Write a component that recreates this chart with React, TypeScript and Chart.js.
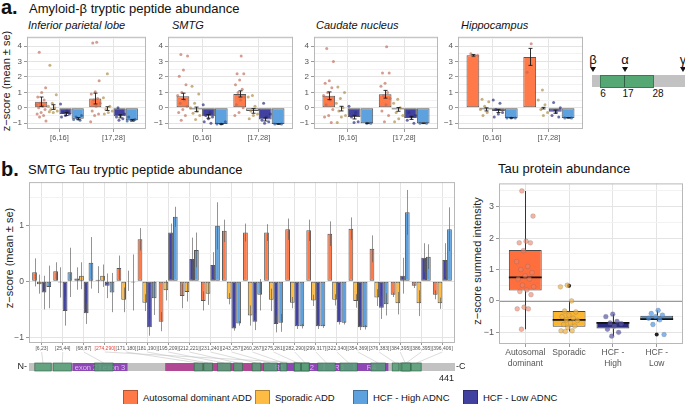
import React, { useEffect, useRef } from 'react';
import { Chart, registerables } from 'chart.js';

Chart.register(...registerables);

const FONT = '"Liberation Sans", Arial, Helvetica, sans-serif';
Chart.defaults.font.family = FONT;

// ---------------- series (drawing order inside each group) ----------------
const seriesNames = ['Autosomal dominant ADD', 'Sporadic ADD', 'HCF - Low ADNC', 'HCF - High ADNC'];
const seriesColors = ['#FF7A48', '#FFBC45', '#4141A0', '#5DA1DF'];
const seriesDots = ['rgba(190,104,84,0.65)', 'rgba(170,134,60,0.65)', 'rgba(48,48,128,0.7)', 'rgba(44,86,146,0.7)'];

// ---------------- panel a : amyloid-beta ----------------
const abPeptides = ['[6,16]', '[17,28]'];
const abYTicks = [-1, 0, 1, 2, 3, 4];
const abYRange = [-1.37, 4.6];
const abRegions = ['Inferior parietal lobe', 'SMTG', 'Caudate nucleus', 'Hippocampus'];

// [series][peptide]
const iplMean = [[0.4, 0.6], [0.05, -0.05], [-0.4, -0.55], [-0.7, -0.8]];
const iplSe = [[0.3, 0.35], [0.15, 0.12], [0.1, 0.1], [0.07, 0.05]];
const iplPoints = [
  [[3.6, 1.3, 1.0, 0.7, 0.5, 0.3, 0.2, 0.1, 0, -0.1, -0.3, -0.4, -0.5, -0.6, -0.85], [4.25, 4.2, 1.75, 1.05, 0.9, 0.6, 0.5, 0.3, 0.1, -0.2, -0.4, -0.5, -0.9]],
  [[2.75, 0.85, 0.3, 0.1, 0, -0.1, -0.2, -0.3, -0.25], [2.2, 0.65, 0.1, -0.1, -0.2, -0.3, -0.4]],
  [[0.25, -0.2, -0.3, -0.4, -0.5, -0.6, -0.3], [0, -0.4, -0.5, -0.6, -0.7, -0.8]],
  [[-0.5, -0.7, -0.75, -0.8, -0.6], [-0.6, -0.75, -0.8, -0.85, -0.8]],
];

const smtgMean = [[0.75, 0.9], [-0.1, -0.2], [-0.55, -0.75], [-1.05, -1.05]];
const smtgSe = [[0.2, 0.2], [0.15, 0.15], [0.12, 0.1], [0.02, 0.02]];
const smtgPoints = [
  [[3.45, 3.35, 2.45, 2.05, 1.5, 1.0, 0.8, 0.5, 0.3, 0.1, -0.1, -0.3, -0.5, -0.8], [3.35, 2.2, 2.2, 1.8, 1.5, 1.2, 1.0, 0.7, 0.5, 0.2, 0, -0.3, -0.5]],
  [[1.4, 0.9, 0.3, 0, -0.2, -0.35, -0.5, -0.75], [0.8, 0.7, 0.1, -0.2, -0.4, -0.5, -0.7]],
  [[0.2, -0.3, -0.5, -0.6, -0.7, -0.9, -1.0], [0.3, -0.4, -0.6, -0.8, -0.9, -1.0]],
  [[-0.9, -1.05, -1.05], [-1.05, -1.05]],
];

const caudMean = [[0.78, 0.88], [-0.05, -0.1], [-0.6, -0.65], [-1.0, -1.0]];
const caudSe = [[0.25, 0.25], [0.15, 0.12], [0.12, 0.1], [0.02, 0.02]];
const caudPoints = [
  [[3.85, 3.0, 1.75, 1.6, 1.3, 1.0, 0.8, 0.5, 0.2, -0.1, -0.5, -0.6, -0.95], [3.95, 2.25, 2.25, 1.6, 1.4, 1.0, 0.8, 0.6, 0.2, -0.2, -0.5, -0.9]],
  [[1.35, 1.0, 0.6, 0.3, 0, -0.2, -0.5, -0.6, -0.95], [0.55, 0.3, 0, -0.3, -0.5, -0.7, -0.9]],
  [[0.1, -0.3, -0.6, -0.9, -0.95], [-0.3, -0.5, -0.6, -0.8, -1.0]],
  [[-1.0, -1.0], [-1.0, -1.0]],
];

const hippMean = [[3.4, 3.3], [-0.1, -0.02], [-0.2, -0.25], [-0.65, -0.65]];
const hippSe = [[0.05, 0.55], [0.1, 0.05], [0.1, 0.1], [0.02, 0.02]];
const hippPoints = [
  [[3.5, 3.4, 3.35], [4.15, 2.3]],
  [[0.55, 0.4, 0.1, -0.1, -0.3, -0.5], [1.15, 0.5, 0.2, -0.1, -0.3, -0.5]],
  [[0.5, 0.3, -0.1, -0.3, -0.4, -0.6], [0.35, 0, -0.3, -0.5, -0.6]],
  [[-0.65, -0.65, -0.65], [-0.65, -0.65]],
];

// ---------------- panel b : tau peptides ----------------
const tauPeptides = ['[6,23]', '[25,44]', '[68,87]', '[274,290]', '[171,180]', '[181,190]', '[195,209]', '[212,221]', '[231,240]', '[243,257]', '[260,267]', '[275,281]', '[282,290]', '[299,317]', '[322,340]', '[354,369]', '[376,383]', '[384,395]', '[386,395]', '[396,406]'];
const tauStart = [6, 25, 68, 274, 171, 181, 195, 212, 231, 243, 260, 275, 282, 299, 322, 354, 376, 384, 386, 396];
const tauEnd = [23, 44, 87, 290, 180, 190, 209, 221, 240, 257, 267, 281, 290, 317, 340, 369, 383, 395, 395, 406];
const tauHighlight = '[274,290]';
const tauYTicks = [-1, 0, 1];
const tauYRange = [-1.1, 1.77];

const tauAD = [0.16, 0.18, 0.05, 0.03, 0.24, 0.75, -0.72, -0.26, -0.35, 0.9, 0.87, 0.87, 0.93, 0.91, 0.85, 0.94, 0.58, -0.24, -0.08, -0.24];
const tauADse = [0.25, 0.16, 0.2, 0.24, 0.22, 0.2, 0.17, 0.22, 0.17, 0.2, 0.16, 0.15, 0.19, 0.19, 0.22, 0.2, 0.24, 0.04, 0.04, 0.08];
const tauSP = [-0.05, -0.02, 0.1, 0.1, -0.33, -0.38, -0.16, -0.19, -0.22, -0.31, -0.61, -0.33, -0.38, -0.34, -0.33, -0.35, -0.29, -0.39, -0.39, -0.39];
const tauSPse = [0.17, 0.27, 0.24, 0.2, 0.22, 0.15, 0.18, 0.17, 0.2, 0.1, 0.18, 0.2, 0.1, 0.1, 0.1, 0.12, 0.15, 0.2, 0.23, 0.1];
const tauLow = [-0.2, -0.53, -0.57, -0.08, 0.01, -0.82, 0.87, 0.4, 0.29, -0.84, -0.72, -0.76, -0.8, -0.8, -0.73, -0.82, -0.47, 0.1, 0.42, 0.38];
const tauLowse = [0.3, 0.26, 0.19, 0.22, 0.18, 0.15, 0.16, 0.38, 0.23, 0.04, 0.15, 0.15, 0.05, 0.05, 0.04, 0.05, 0.2, 0.32, 0.26, 0.3];
const tauHigh = [-0.1, 0.16, 0.33, -0.2, -0.02, -0.3, 1.15, 0.56, 0.99, -0.75, -0.24, -0.74, -0.8, -0.8, -0.74, -0.82, -0.41, 1.23, 0.44, 0.93];
const tauHighse = [0.38, 0.44, 0.46, 0.35, 0.5, 0.3, 0.18, 0.31, 0.42, 0.04, 0.28, 0.16, 0.04, 0.03, 0.03, 0.04, 0.2, 0.4, 0.22, 0.39];

// tau protein (2N4R) schematic, residues
const seqLength = 441;
const domainNames = ['exon 2', 'exon 3', '', 'R1', 'R2', 'R3', 'R4'];
const domainStart = [45, 74, 141, 244, 275, 306, 337];
const domainEnd = [73, 102, 244, 274, 305, 336, 372];
const domainKind = ['exon', 'exon', 'proline', 'repeat', 'repeat', 'repeat', 'repeat'];

// ---------------- tau protein abundance boxplot ----------------
const boxLabels = ['Autosomal\ndominant', 'Sporadic', 'HCF -\nHigh', 'HCF -\nLow'];
const boxYTicks = [-1, 0, 1, 2, 3];
const boxYRange = [-1.37, 3.74];
const boxQ1 = [0.33, -0.82, -0.88, -0.6];
const boxMedian = [0.75, -0.6, -0.7, -0.58];
const boxQ3 = [1.62, -0.32, -0.67, -0.47];
const boxLow = [-0.9, -0.97, -1.12, -0.65];
const boxHigh = [3.5, 0.0, -0.42, -0.3];
const boxOutliers = [[], [0.48], [], [-1.07]];
const boxPoints = [
  [3.5, 2.7, 1.9, 1.85, 1.85, 1.6, 1.25, 1.1, 1.0, 0.9, 0.8, 0.7, 0.7, 0.5, 0.45, 0.35, 0.3, 0.2, -0.2, -0.25, -0.25, -0.9],
  [0.5, 0.45, 0.0, -0.32, -0.35, -0.45, -0.5, -0.55, -0.6, -0.62, -0.7, -0.75, -0.8, -0.85, -0.95, -0.95, -0.97],
  [-0.42, -0.5, -0.65, -0.7, -0.72, -0.8, -0.9, -1.0, -1.12],
  [-0.3, -0.4, -0.45, -0.5, -0.55, -0.6, -0.75, -1.07],
];
const boxColors = ['#FF6F3D', '#FDB630', '#2B2B80', '#3E98E8'];
const boxDots = ['rgba(238,128,100,0.6)', 'rgba(236,176,70,0.7)', 'rgba(90,90,170,0.7)', 'rgba(80,150,230,0.7)'];

// ---------------- styling ----------------
const GRID_MAJOR = '#e4e4e4';
const GRID_MINOR = '#f2f2f2';
const TICK_TEXT = '#555555';
const FRAME = '#b8b8b8';

type Rect = { x0: number; y0: number; x1: number; y1: number };

const isMajor = (v: number) => v !== undefined && Math.abs(v - Math.round(v)) < 1e-9;
const fmtTick = (v: number) => (v < 0 ? '\u2212' + Math.abs(v) : String(v));
const jit = (k: number) => ((k * 0.618034 + 0.31) % 1) - 0.5;

function halves(min: number, max: number) {
  const out: number[] = [];
  for (let v = Math.ceil(min * 2) / 2; v <= max + 1e-9; v += 0.5) out.push(Math.round(v * 2) / 2);
  return out;
}

function yAxis(range: number[], major: number[], font: number, width: number) {
  const [min, max] = range;
  return {
    type: 'linear',
    min,
    max,
    afterBuildTicks: (s: any) => {
      s.ticks = halves(min, max).map((v) => ({ value: v }));
    },
    afterFit: (s: any) => {
      s.width = width;
    },
    ticks: {
      autoSkip: false,
      color: TICK_TEXT,
      font: { size: font },
      padding: 2,
      callback: (v: number) => (major.indexOf(v) >= 0 ? fmtTick(v) : ''),
    },
    grid: {
      color: (c: any) => (c.tick && isMajor(c.tick.value) ? GRID_MAJOR : GRID_MINOR),
      lineWidth: 1,
      tickLength: 3,
      tickColor: (c: any) => (c.tick && isMajor(c.tick.value) ? '#9a9a9a' : 'rgba(0,0,0,0)'),
    },
    border: { display: false },
  };
}

function xAxis(labels: any[], height: number, font: number, color: any = TICK_TEXT, tickLen = 3) {
  return {
    type: 'linear',
    min: 0.4,
    max: labels.length + 0.6,
    offset: false,
    afterBuildTicks: (s: any) => {
      s.ticks = labels.map((_: any, i: number) => ({ value: i + 1 }));
    },
    afterFit: (s: any) => {
      s.height = height;
    },
    ticks: {
      autoSkip: false,
      maxRotation: 0,
      minRotation: 0,
      color,
      font: { size: font },
      padding: 1,
      callback: (v: number) => labels[Math.round(v) - 1],
    },
    grid: { color: GRID_MAJOR, lineWidth: 1, tickLength: tickLen, tickColor: '#9a9a9a', offset: false },
    border: { display: false },
  };
}

const framePlugin = {
  id: 'frame',
  afterDraw(chart: any) {
    const { ctx, chartArea } = chart;
    ctx.save();
    ctx.strokeStyle = FRAME;
    ctx.lineWidth = 1;
    ctx.strokeRect(chartArea.left + 0.5, chartArea.top + 0.5, chartArea.right - chartArea.left - 1, chartArea.bottom - chartArea.top - 1);
    ctx.restore();
  },
};

function jitterPlugin(points: number[][][], colors: string[], radius: number, spread: number) {
  return {
    id: 'jitter',
    afterDatasetsDraw(chart: any) {
      const { ctx } = chart;
      const ys = chart.scales.y;
      ctx.save();
      points.forEach((perCat, si) => {
        const meta = chart.getDatasetMeta(si);
        perCat.forEach((list, ci) => {
          const el = meta.data[ci];
          if (!el) return;
          list.forEach((v, k) => {
            ctx.beginPath();
            ctx.arc(el.x + jit(k + si * 3 + ci * 7) * el.width * spread, ys.getPixelForValue(v), radius, 0, Math.PI * 2);
            ctx.fillStyle = colors[si];
            ctx.fill();
          });
        });
      });
      ctx.restore();
    },
  };
}

function errorBarsPlugin(se: number[][], color: string, width: number, cap: number) {
  return {
    id: 'errorBars',
    afterDatasetsDraw(chart: any) {
      const { ctx } = chart;
      const ys = chart.scales.y;
      ctx.save();
      ctx.strokeStyle = color;
      ctx.lineWidth = width;
      chart.data.datasets.forEach((ds: any, di: number) => {
        const meta = chart.getDatasetMeta(di);
        meta.data.forEach((el: any, i: number) => {
          const v = ds.data[i].y;
          const e = se[di][i];
          const yt = ys.getPixelForValue(v + e);
          const yb = ys.getPixelForValue(v - e);
          const x = Math.round(el.x) + 0.5;
          ctx.beginPath();
          ctx.moveTo(x, yt);
          ctx.lineTo(x, yb);
          if (cap > 0) {
            ctx.moveTo(x - cap, yt);
            ctx.lineTo(x + cap, yt);
            ctx.moveTo(x - cap, yb);
            ctx.lineTo(x + cap, yb);
          }
          ctx.stroke();
        });
      });
      ctx.restore();
    },
  };
}

function barDatasets(means: number[][]) {
  return means.map((m, si) => ({
    label: seriesNames[si],
    data: m.map((v, i) => ({ x: i + 1, y: v })),
    backgroundColor: seriesColors[si],
    borderColor: 'rgba(45,45,45,0.8)',
    borderWidth: 1,
    borderSkipped: false,
    categoryPercentage: 0.9,
    barPercentage: 1,
  }));
}

function baseOptions(canvas: Rect, plot: Rect) {
  return {
    animation: false,
    responsive: false,
    devicePixelRatio: 1,
    events: [],
    layout: { padding: { top: plot.y0 - canvas.y0, right: canvas.x1 - plot.x1, left: 0, bottom: 0 } },
    plugins: { legend: { display: false }, tooltip: { enabled: false }, title: { display: false } },
  };
}

function ChartCanvas({ canvas, build }: { canvas: Rect; build: () => any }) {
  const ref = useRef<HTMLCanvasElement>(null);
  useEffect(() => {
    const chart = new Chart(ref.current as HTMLCanvasElement, build());
    return () => chart.destroy();
  }, []);
  const w = canvas.x1 - canvas.x0;
  const h = canvas.y1 - canvas.y0;
  return <canvas ref={ref} width={w} height={h} style={{ position: 'absolute', left: canvas.x0, top: canvas.y0, width: w, height: h }} />;
}

// ---------------- builders ----------------
function buildAb(canvas: Rect, plot: Rect, mean: number[][], se: number[][], pts: number[][][]) {
  const opts: any = baseOptions(canvas, plot);
  opts.scales = {
    x: xAxis(abPeptides, canvas.y1 - plot.y1, 7.5),
    y: yAxis(abYRange, abYTicks, 8, plot.x0 - canvas.x0),
  };
  return {
    type: 'bar',
    data: { datasets: barDatasets(mean) },
    options: opts,
    plugins: [framePlugin, jitterPlugin(pts, seriesDots, 1.5, 0.85), errorBarsPlugin(se, '#1a1a1a', 0.9, 2)],
  };
}

const seqPlugin = {
  id: 'sequence',
  afterDraw(chart: any) {
    const { ctx, chartArea } = chart;
    const { left, right, bottom } = chartArea;
    const xs = chart.scales.x;
    const sx = (r: number) => left + (r / seqLength) * (right - left);
    const y0 = bottom + 20;
    const h = 8;
    ctx.save();
    ctx.strokeStyle = '#c4c4c4';
    ctx.lineWidth = 0.6;
    tauStart.forEach((s, i) => {
      ctx.beginPath();
      ctx.moveTo(xs.getPixelForValue(i + 1), bottom + 9);
      ctx.lineTo(sx((s + tauEnd[i]) / 2), y0);
      ctx.stroke();
    });
    ctx.fillStyle = '#c2c2c2';
    ctx.fillRect(sx(0), y0, sx(seqLength) - sx(0), h);
    domainStart.forEach((s, i) => {
      ctx.fillStyle = domainKind[i] === 'proline' ? '#B04893' : '#8D48B3';
      ctx.fillRect(sx(s), y0, sx(domainEnd[i]) - sx(s), h);
    });
    ctx.font = `7.5px ${FONT}`;
    ctx.fillStyle = '#dcc0f2';
    ctx.textAlign = 'center';
    ctx.textBaseline = 'middle';
    domainNames.forEach((n, i) => {
      if (n) ctx.fillText(n, sx((domainStart[i] + domainEnd[i]) / 2), y0 + h / 2 + 0.5);
    });
    tauStart.forEach((s, i) => {
      const x = sx(s);
      const w = sx(tauEnd[i]) - x;
      ctx.fillStyle = 'rgba(88,158,120,0.88)';
      ctx.fillRect(x, y0, w, h);
      ctx.strokeStyle = 'rgba(50,100,72,0.9)';
      ctx.lineWidth = 0.7;
      ctx.strokeRect(x, y0, w, h);
    });
    ctx.fillStyle = '#222';
    ctx.font = `9px ${FONT}`;
    ctx.textAlign = 'right';
    ctx.fillText('N-', sx(0) - 2, y0 + h / 2);
    ctx.textAlign = 'left';
    ctx.fillText('-C', sx(seqLength) + 1, y0 + h / 2);
    ctx.textAlign = 'right';
    ctx.textBaseline = 'top';
    ctx.fillText(String(seqLength), sx(seqLength) - 1, y0 + h + 3);
    ctx.restore();
  },
};

function buildTau(canvas: Rect, plot: Rect) {
  const opts: any = baseOptions(canvas, plot);
  opts.scales = {
    x: xAxis(tauPeptides, canvas.y1 - plot.y1, 5, (c: any) => (tauPeptides[c.index] === tauHighlight ? '#e8453c' : TICK_TEXT), 2),
    y: yAxis(tauYRange, tauYTicks, 8.5, plot.x0 - canvas.x0),
  };
  const means = [tauAD, tauSP, tauLow, tauHigh];
  const ses = [tauADse, tauSPse, tauLowse, tauHighse];
  return {
    type: 'bar',
    data: { datasets: barDatasets(means) },
    options: opts,
    plugins: [framePlugin, errorBarsPlugin(ses, 'rgba(90,90,90,0.65)', 1, 0), seqPlugin],
  };
}

const boxPlugin = {
  id: 'boxParts',
  beforeDatasetsDraw(chart: any) {
    const { ctx, chartArea } = chart;
    const ys = chart.scales.y;
    const xs = chart.scales.x;
    ctx.save();
    ctx.strokeStyle = '#9a9a9a';
    ctx.lineWidth = 1;
    const y0 = Math.round(ys.getPixelForValue(0)) + 0.5;
    ctx.beginPath();
    ctx.moveTo(chartArea.left, y0);
    ctx.lineTo(chartArea.right, y0);
    ctx.stroke();
    ctx.strokeStyle = '#333';
    boxLow.forEach((lo, i) => {
      const x = Math.round(xs.getPixelForValue(i + 1)) + 0.5;
      ctx.beginPath();
      ctx.moveTo(x, ys.getPixelForValue(lo));
      ctx.lineTo(x, ys.getPixelForValue(boxQ1[i]));
      ctx.moveTo(x, ys.getPixelForValue(boxQ3[i]));
      ctx.lineTo(x, ys.getPixelForValue(boxHigh[i]));
      ctx.stroke();
    });
    ctx.restore();
  },
  afterDatasetsDraw(chart: any) {
    const { ctx } = chart;
    const ys = chart.scales.y;
    const meta = chart.getDatasetMeta(0);
    ctx.save();
    ctx.strokeStyle = '#111';
    ctx.lineWidth = 1.8;
    meta.data.forEach((el: any, i: number) => {
      const y = ys.getPixelForValue(boxMedian[i]);
      ctx.beginPath();
      ctx.moveTo(el.x - el.width / 2, y);
      ctx.lineTo(el.x + el.width / 2, y);
      ctx.stroke();
    });
    ctx.fillStyle = '#222';
    boxOutliers.forEach((list, i) => {
      const el = meta.data[i];
      list.forEach((v) => {
        ctx.beginPath();
        ctx.arc(el.x, ys.getPixelForValue(v), 2, 0, Math.PI * 2);
        ctx.fill();
      });
    });
    ctx.lineWidth = 0.6;
    boxPoints.forEach((list, i) => {
      const el = meta.data[i];
      list.forEach((v, k) => {
        ctx.beginPath();
        ctx.arc(el.x + jit(k + i * 5) * el.width * 0.55, ys.getPixelForValue(v), 2.4, 0, Math.PI * 2);
        ctx.fillStyle = boxDots[i];
        ctx.fill();
        ctx.strokeStyle = 'rgba(90,90,90,0.35)';
        ctx.stroke();
      });
    });
    ctx.restore();
  },
};

function buildBox(canvas: Rect, plot: Rect) {
  const opts: any = baseOptions(canvas, plot);
  const labels = boxLabels.map((l) => l.split('\n'));
  opts.scales = {
    x: xAxis(labels, canvas.y1 - plot.y1, 8.5),
    y: yAxis(boxYRange, boxYTicks, 9, plot.x0 - canvas.x0),
  };
  return {
    type: 'bar',
    data: {
      datasets: [
        {
          label: 'Tau protein',
          data: boxLabels.map((_, i) => ({ x: i + 1, y: [boxQ1[i], boxQ3[i]] })),
          backgroundColor: boxColors,
          borderColor: 'rgba(40,40,40,0.85)',
          borderWidth: 1,
          borderSkipped: false,
          categoryPercentage: 1,
          barPercentage: 0.75,
        },
      ],
    },
    options: opts,
    plugins: [framePlugin, boxPlugin],
  };
}

// ---------------- text helpers ----------------
function Txt(props: { x: number; y: number; size: number; children: any; bold?: boolean; italic?: boolean; color?: string; anchor?: string }) {
  const { x, y, size, children, bold, italic, color = '#111', anchor = 'start' } = props;
  const style: any = {
    position: 'absolute',
    top: y - 0.847 * size,
    left: x,
    fontSize: size,
    lineHeight: `${size}px`,
    fontFamily: FONT,
    whiteSpace: 'nowrap',
    color,
    fontWeight: bold ? 700 : 400,
    fontStyle: italic ? 'italic' : 'normal',
  };
  if (anchor === 'middle') style.transform = 'translateX(-50%)';
  return <div style={style}>{children}</div>;
}

function VTxt({ cx, cy, size, children }: { cx: number; cy: number; size: number; children: any }) {
  return (
    <div
      style={{
        position: 'absolute',
        left: cx,
        top: cy,
        fontSize: size,
        lineHeight: `${size}px`,
        fontFamily: FONT,
        whiteSpace: 'nowrap',
        color: '#222',
        transform: 'translate(-50%,-50%) rotate(-90deg)',
      }}
    >
      {children}
    </div>
  );
}

function Tri({ x, y }: { x: number; y: number }) {
  return <div style={{ position: 'absolute', left: x - 3, top: y, width: 0, height: 0, borderLeft: '3px solid transparent', borderRight: '3px solid transparent', borderTop: '5px solid #111' }} />;
}

// ---------------- layout ----------------
const abPlotX = [[27, 146], [168, 293], [314, 438], [458, 583]];
const abTitleX = [28, 172, 316, 461];
const abData = [
  [iplMean, iplSe, iplPoints],
  [smtgMean, smtgSe, smtgPoints],
  [caudMean, caudSe, caudPoints],
  [hippMean, hippSe, hippPoints],
];
const legendOrder = [0, 1, 3, 2];
const legendX = [123, 255, 353, 463];

export default function App() {
  const tauCanvas = { x0: 10, y0: 175, x1: 470, y1: 386 };
  const tauPlot = { x0: 29, y0: 177, x1: 455, y1: 343 };
  const boxCanvas = { x0: 484, y0: 176, x1: 685, y1: 374 };
  const boxPlot = { x0: 499, y0: 179, x1: 683, y1: 344 };
  const abPlots = abPlotX.map((px) => ({ x0: px[0], y0: 32, x1: px[1], y1: 129 }));
  return (
    <div style={{ position: 'fixed', left: 0, top: 0, width: 685, height: 404, background: '#fff', overflow: 'hidden' }}>
      <Txt x={1} y={14} size={20} bold>a.</Txt>
      <Txt x={29} y={13.5} size={13}>Amyloid-β tryptic peptide abundance</Txt>
      <VTxt cx={6} cy={81} size={11}>z−score (mean ± se)</VTxt>
      {abRegions.map((r, i) => (
        <Txt key={r} x={abTitleX[i]} y={29} size={11} italic>{r}</Txt>
      ))}
      {abData.map((d, i) => {
        const plot = abPlots[i];
        const canvas = { x0: plot.x0 - 15, y0: 30, x1: plot.x1 + 2, y1: 146 };
        return <ChartCanvas key={i} canvas={canvas} build={() => buildAb(canvas, plot, d[0] as any, d[1] as any, d[2] as any)} />;
      })}

      {/* Abeta schematic */}
      <div style={{ position: 'absolute', left: 592, top: 75, width: 93, height: 12, background: '#c2c2c2' }} />
      <div style={{ position: 'absolute', left: 600, top: 75, width: 52, height: 11, background: '#55A874', border: '0.5px solid #3b7a55' }} />
      <div style={{ position: 'absolute', left: 624, top: 75, width: 1, height: 12, background: '#2f5f44' }} />
      <Txt x={593} y={64} size={13} anchor="middle">β</Txt>
      <Txt x={625} y={64} size={13} anchor="middle">α</Txt>
      <Txt x={683} y={64} size={13} anchor="middle">γ</Txt>
      <Tri x={593} y={67} />
      <Tri x={625} y={67} />
      <Tri x={683} y={67} />
      <Txt x={603} y={97} size={10} anchor="middle">6</Txt>
      <Txt x={628} y={97} size={10} anchor="middle">17</Txt>
      <Txt x={658} y={97} size={10} anchor="middle">28</Txt>

      {/* panel b */}
      <Txt x={1} y={176} size={20} bold>b.</Txt>
      <Txt x={28} y={174} size={13}>SMTG Tau tryptic peptide abundance</Txt>
      <VTxt cx={9} cy={258} size={11}>z−score (mean ± se)</VTxt>
      <ChartCanvas canvas={tauCanvas} build={() => buildTau(tauCanvas, tauPlot)} />

      <Txt x={498} y={173} size={13}>Tau protein abundance</Txt>
      <VTxt cx={477} cy={261} size={11}>z−score summed intensity</VTxt>
      <ChartCanvas canvas={boxCanvas} build={() => buildBox(boxCanvas, boxPlot)} />

      {/* legend */}
      {legendOrder.map((si, k) => (
        <React.Fragment key={si}>
          <div style={{ position: 'absolute', left: legendX[k], top: 390, width: 13, height: 13, background: seriesColors[si], border: '1px solid rgba(0,0,0,0.3)' }} />
          <Txt x={legendX[k] + 20} y={401} size={9.5}>{seriesNames[si]}</Txt>
        </React.Fragment>
      ))}
    </div>
  );
}
